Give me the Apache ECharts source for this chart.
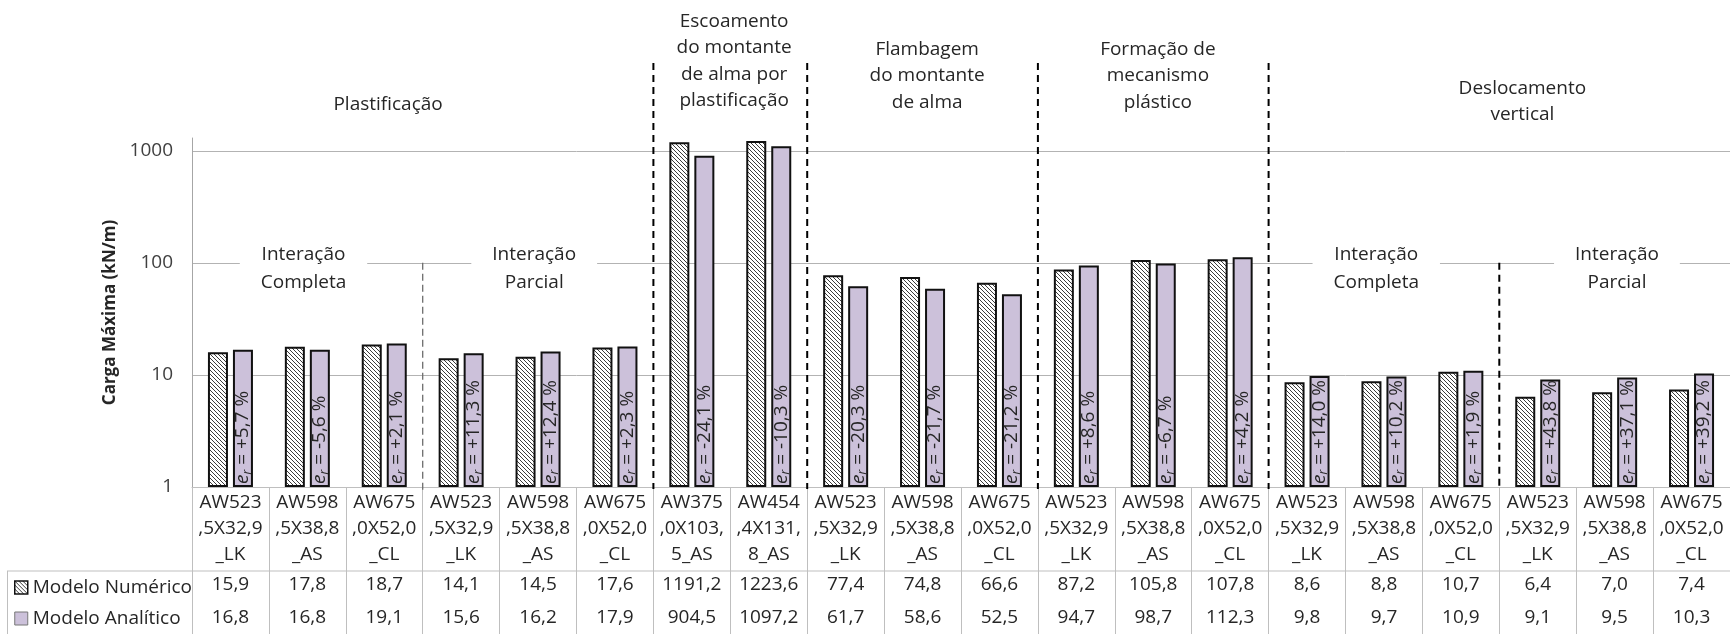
<!DOCTYPE html>
<html>
<head>
<meta charset="utf-8">
<script src="https://cdn.jsdelivr.net/npm/echarts@6/dist/echarts.min.js"></script>
<style>
  html, body { margin: 0; padding: 0; background: #fff; }
  #chart { width: 1730px; height: 634px; }
</style>
</head>
<body>
<div id="chart"></div>
<script>
// Beam designations (one per column, broken into the three lines shown under the bars)
const categories = [
  'AW523\n,5X32,9\n_LK', 'AW598\n,5X38,8\n_AS', 'AW675\n,0X52,0\n_CL',
  'AW523\n,5X32,9\n_LK', 'AW598\n,5X38,8\n_AS', 'AW675\n,0X52,0\n_CL',
  'AW375\n,0X103,\n5_AS', 'AW454\n,4X131,\n8_AS',
  'AW523\n,5X32,9\n_LK', 'AW598\n,5X38,8\n_AS', 'AW675\n,0X52,0\n_CL',
  'AW523\n,5X32,9\n_LK', 'AW598\n,5X38,8\n_AS', 'AW675\n,0X52,0\n_CL',
  'AW523\n,5X32,9\n_LK', 'AW598\n,5X38,8\n_AS', 'AW675\n,0X52,0\n_CL',
  'AW523\n,5X32,9\n_LK', 'AW598\n,5X38,8\n_AS', 'AW675\n,0X52,0\n_CL'
];

// Maximum load (kN/m)
const numerico = [15.9, 17.8, 18.7, 14.1, 14.5, 17.6, 1191.2, 1223.6, 77.4, 74.8, 66.6,
                  87.2, 105.8, 107.8, 8.6, 8.8, 10.7, 6.4, 7.0, 7.4];
const analitico = [16.8, 16.8, 19.1, 15.6, 16.2, 17.9, 904.5, 1097.2, 61.7, 58.6, 52.5,
                   94.7, 98.7, 112.3, 9.8, 9.7, 10.9, 9.1, 9.5, 10.3];

// Relative error of the analytical model (%)
const erros = ['+5,7', '-5,6', '+2,1', '+11,3', '+12,4', '+2,3', '-24,1', '-10,3', '-20,3', '-21,7',
               '-21,2', '+8,6', '-6,7', '+4,2', '+14,0', '+10,2', '+1,9', '+43,8', '+37,1', '+39,2'];

// Log-axis tick labels
const yTicks = [1, 10, 100, 1000];

// Failure modes: column ranges [from, to]
const modos = [
  { nome: 'Plastificação', de: 0, ate: 5 },
  { nome: 'Escoamento\ndo montante\nde alma por\nplastificação', de: 6, ate: 7 },
  { nome: 'Flambagem\ndo montante\nde alma', de: 8, ate: 10 },
  { nome: 'Formação de\nmecanismo\nplástico', de: 11, ate: 13 },
  { nome: 'Deslocamento\nvertical', de: 14, ate: 19 }
];

// Shear-connection sub-groups
const interacoes = [
  { nome: 'Interação\nCompleta', de: 0, ate: 2 },
  { nome: 'Interação\nParcial', de: 3, ate: 5 },
  { nome: 'Interação\nCompleta', de: 14, ate: 16 },
  { nome: 'Interação\nParcial', de: 17, ate: 19 }
];

const FONT = '"Open Sans", "Noto Sans", sans-serif';
const TXT = '#262626';
const FS = 19;

function hatchPattern() {
  const c = document.createElement('canvas');
  c.width = 4; c.height = 4;
  const g = c.getContext('2d');
  g.fillStyle = '#ffffff';
  g.fillRect(0, 0, 4, 4);
  g.strokeStyle = '#3c3c3c';
  g.lineWidth = 1;
  g.beginPath();
  g.moveTo(-1, -1); g.lineTo(5, 5);
  g.moveTo(-1, 3); g.lineTo(1, 5);
  g.moveTo(3, -1); g.lineTo(5, 1);
  g.stroke();
  return c;
}

const fmt = v => v.toFixed(1).replace('.', ',');

const chart = echarts.init(document.getElementById('chart'), null, { renderer: 'canvas' });

const option = {
  animation: false,
  textStyle: { fontFamily: FONT },
  grid: { left: 192, right: 0, top: 138, bottom: 147, containLabel: false },
  legend: {
    orient: 'vertical',
    left: 14,
    top: 578,
    padding: 0,
    itemWidth: 13,
    itemHeight: 13,
    itemGap: 12,
    icon: 'rect',
    textStyle: { fontSize: FS, color: TXT, fontFamily: FONT },
    data: [
      { name: 'Modelo Numérico', itemStyle: { borderWidth: 1.5, borderColor: '#111' } },
      { name: 'Modelo Analítico', itemStyle: { borderWidth: 1, borderColor: '#777' } }
    ]
  },
  xAxis: {
    type: 'category',
    data: categories,
    axisLine: { lineStyle: { color: '#bfbfbf', width: 1 } },
    axisTick: { show: true, length: 150, lineStyle: { color: '#bfbfbf' } },
    axisLabel: {
      interval: 0,
      margin: 3,
      color: TXT,
      formatter: function (value, idx) {
        const lines = value.split('\n').map(s => '{c|' + s + '}');
        return lines.join('\n') + '\n{v|' + fmt(numerico[idx]) + '}\n{v|' + fmt(analitico[idx]) + '}';
      },
      rich: {
        c: { fontSize: FS, lineHeight: 26, color: TXT, fontFamily: FONT },
        v: { fontSize: FS, lineHeight: 33, color: TXT, fontFamily: FONT }
      }
    }
  },
  yAxis: {
    type: 'log',
    logBase: 10,
    min: 1,
    max: 1300,
    name: 'Carga Máxima (kN/m)',
    nameLocation: 'middle',
    nameGap: 71,
    nameTextStyle: { fontSize: 17, fontWeight: 'bold', color: TXT, fontFamily: FONT },
    axisLine: { show: true, lineStyle: { color: '#a6a6a6' } },
    axisTick: { show: false },
    splitLine: { show: true, showMaxLine: false, lineStyle: { color: '#b3b3b3', width: 1 } },
    axisLabel: {
      fontSize: FS,
      color: '#404040',
      margin: 19,
      showMaxLabel: false,
      formatter: v => (yTicks.indexOf(Math.round(v)) >= 0 && Math.abs(v - Math.round(v)) < 1e-6) ? String(Math.round(v)) : ''
    }
  },
  series: [
    {
      name: 'Modelo Numérico',
      type: 'bar',
      data: numerico,
      barWidth: 20,
      barGap: '25%',
      itemStyle: { color: { image: hatchPattern(), repeat: 'repeat' }, borderColor: '#111', borderWidth: 2 }
    },
    {
      name: 'Modelo Analítico',
      type: 'bar',
      data: analitico,
      barWidth: 20,
      barGap: '25%',
      itemStyle: { color: '#ccc1da', borderColor: '#111', borderWidth: 2 },
      label: {
        show: true,
        position: 'insideBottom',
        rotate: 90,
        align: 'left',
        verticalAlign: 'middle',
        distance: 3,
        formatter: p => '{e|e}{r|r}{t| = ' + erros[p.dataIndex] + ' %}',
        rich: {
          e: { fontSize: 19, fontStyle: 'italic', color: TXT, lineHeight: 21, fontFamily: FONT },
          r: { fontSize: 12, fontStyle: 'italic', color: TXT, lineHeight: 11, verticalAlign: 'bottom', fontFamily: FONT },
          t: { fontSize: 19, color: TXT, lineHeight: 21, fontFamily: FONT }
        }
      }
    }
  ]
};

chart.setOption(option);

// Annotations placed from the axes' own scales
const cx0 = chart.convertToPixel({ xAxisIndex: 0 }, 0);
const cx1 = chart.convertToPixel({ xAxisIndex: 0 }, 1);
const colW = cx1 - cx0;
const colX = p => cx0 - colW / 2 + p * colW;
const y100 = chart.convertToPixel({ yAxisIndex: 0 }, 100);
const yBase = chart.convertToPixel({ yAxisIndex: 0 }, 1);

// label anchors, in column units, and first-line tops
const modoLayout = [
  { p: 2.55, top: 91 },
  { p: 7.05, top: 8 },
  { p: 9.56, top: 36 },
  { p: 12.56, top: 36 },
  { p: 17.3, top: 75 }
];
const interLayout = [1.45, 4.45, 15.4, 18.53];

const graphics = [];

modos.forEach((m, i) => {
  graphics.push({
    type: 'text', z: 10,
    x: colX(modoLayout[i].p), y: modoLayout[i].top,
    style: { text: m.nome, fontSize: FS, lineHeight: 26.5, fill: TXT, align: 'center', verticalAlign: 'top', fontFamily: FONT }
  });
});

interacoes.forEach((g, i) => {
  graphics.push({
    type: 'text', z: 10,
    x: colX(interLayout[i]), y: y100 + 6,
    style: {
      text: g.nome, fontSize: FS, lineHeight: 28, fill: TXT, align: 'center', verticalAlign: 'middle',
      fontFamily: FONT, backgroundColor: '#ffffff', padding: [2, 21]
    }
  });
});

// failure-mode separators
[6, 8, 11, 14].forEach(b => {
  graphics.push({
    type: 'line', z: 11,
    shape: { x1: colX(b), y1: 63, x2: colX(b), y2: yBase + 2 },
    style: { stroke: '#000', lineWidth: 2, lineDash: [7, 5] }
  });
});
// sub-group separators
graphics.push({
  type: 'line', z: 11,
  shape: { x1: colX(3), y1: y100, x2: colX(3), y2: yBase + 3 },
  style: { stroke: '#6d6d6d', lineWidth: 1.3, lineDash: [7, 4] }
});
graphics.push({
  type: 'line', z: 11,
  shape: { x1: colX(17), y1: y100, x2: colX(17), y2: yBase + 2 },
  style: { stroke: '#000', lineWidth: 2, lineDash: [7, 5] }
});

// data table rules
const yRow = yBase + 84;
graphics.push({
  type: 'line', z: 1,
  shape: { x1: 7, y1: yRow, x2: 1730, y2: yRow },
  style: { stroke: '#bfbfbf', lineWidth: 1 }
});
graphics.push({
  type: 'line', z: 1,
  shape: { x1: 7.5, y1: yRow, x2: 7.5, y2: 640 },
  style: { stroke: '#bfbfbf', lineWidth: 1 }
});

chart.setOption({ graphic: graphics });
</script>
</body>
</html>
